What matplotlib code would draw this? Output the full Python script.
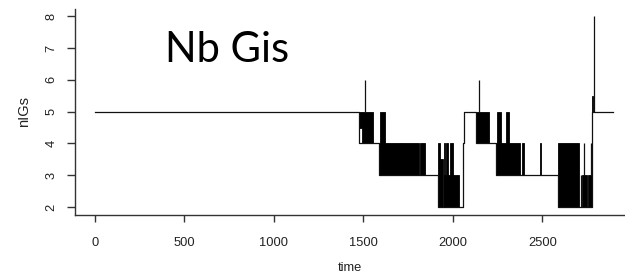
import matplotlib
matplotlib.use("Agg")
import matplotlib.pyplot as plt

# ---- data ----
# main step trajectory: value holds from each change time onward
line_t = [0, 1477, 1585, 1918, 2058, 2062, 2128, 2238, 2397, 2588, 2712, 2776, 2892]
line_v = [5, 4, 3, 2, 4, 5, 4, 3, 3, 2, 2, 5, 5]

# dense oscillation blocks (time start, time end, low level, high level)
block_t0 = [1477, 1490, 1592, 1585, 1707, 1711, 1817, 1918, 1925, 1950, 1952, 1963, 1985,
            2128, 2238, 2384, 2244, 2296, 2486, 2588, 2722, 2756, 2776]
block_t1 = [1490, 1555, 1622, 1707, 1711, 1810, 1844, 1925, 1944, 2034, 1958, 1972, 1998,
            2203, 2374, 2397, 2266, 2315, 2492, 2705, 2747, 2775, 2785]
block_lo = [4.5, 4, 4, 3, 3, 3, 3, 2, 2, 2, 2, 3, 2,
            4, 3, 3, 4, 4, 3, 2, 2, 2, 5]
block_hi = [5, 5, 5, 4, 3.5, 4, 4, 4, 3.5, 3, 4, 4, 4,
            5, 4, 4, 5, 5, 4, 4, 3, 3, 5.5]

# single excursions (time, low, high)
spike_t = [1507, 2146, 2715, 2732, 2770, 2786]
spike_lo = [5, 5, 2, 3, 3, 5]
spike_hi = [6, 6, 3, 4, 4, 8]

x_ticks = [0, 500, 1000, 1500, 2000, 2500]
y_ticks = [2, 3, 4, 5, 6, 7, 8]

# ---- figure ----
W, H = 625, 277
fig = plt.figure(figsize=(W / 100, H / 100), dpi=100)
ax = fig.add_axes([74.7 / W, (H - 214.7) / H, (W - 74.7) / W, (214.7 - 8.7) / H])

lc = "#111111"
ax.step(line_t, line_v, where="post", color=lc, lw=0.9)
widths = [b - a for a, b in zip(block_t0, block_t1)]
heights = [h - l for l, h in zip(block_lo, block_hi)]
ax.bar(block_t0, heights, width=widths, bottom=block_lo, align="edge",
       color="black", edgecolor="black", linewidth=0.6)
ax.vlines(spike_t, spike_lo, spike_hi, color=lc, lw=0.9)

ax.set_xlim(-113, 2961)
ax.set_ylim(1.76, 8.24)

for s in ["top", "right"]:
    ax.spines[s].set_visible(False)
for s in ["left", "bottom"]:
    ax.spines[s].set_color("#333333")
    ax.spines[s].set_linewidth(1.0)

tick_font = dict(family="Liberation Sans", size=9.3)
ax.set_xticks(x_ticks)
ax.set_xticklabels([str(v) for v in x_ticks], fontdict=tick_font, color="#222222")
ax.set_yticks(y_ticks)
ax.set_yticklabels([str(v) for v in y_ticks], fontdict=tick_font, color="#222222",
                   rotation=90, va="center")
ax.tick_params(axis="x", length=5.2, width=1.0, color="#333333", pad=10.5)
ax.tick_params(axis="y", length=5.8, width=1.0, color="#333333", pad=6.5)

fig.text(350 / W, 1 - 268 / H, "time", ha="center", va="center",
         family="Liberation Sans", size=9.3, color="#222222")
fig.text(24 / W, 1 - 111.7 / H, "nIGs", ha="center", va="center", rotation=90,
         family="Liberation Sans", size=10.5, color="#222222")

fig.text(165 / W, 1 - 61.7 / H, "Nb Gis", ha="left", va="baseline",
         family="Lato", size=30, color="black")

fig.savefig("out.png", dpi=100)
